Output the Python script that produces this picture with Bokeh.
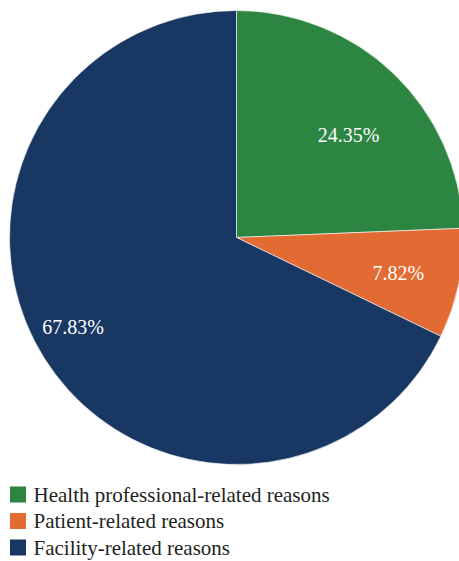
import math
from bokeh.plotting import figure
from bokeh.models import Range1d, ColumnDataSource
from bokeh.core.properties import value
from bokeh.embed import file_html
from bokeh.resources import INLINE

categories = ["Health professional-related reasons", "Patient-related reasons", "Facility-related reasons"]
percents = [24.35, 7.82, 67.83]
labels = ["24.35%", "7.82%", "67.83%"]
colors = ["#2C8642", "#E26A33", "#183763"]

W, H = 459, 561
p = figure(width=W, height=H, output_backend="svg", toolbar_location=None,
           x_range=Range1d(0, W), y_range=Range1d(0, H), min_border=0)
p.axis.visible = False
p.grid.visible = False
p.outline_line_color = None
p.background_fill_color = "white"

FONT = value("Liberation Serif")

# geometry (page pixel coords, y up = 561 - page_y)
cx, cy, r = 236, 561 - 237, 227

starts, ends, lx, ly = [], [], [], []
a = math.pi / 2
label_r = [0.67, 0.73, 0.82]
label_da = [-3.6, -0.5, -3.5]  # degrees offset from slice middle
for i, pc in enumerate(percents):
    sweep = pc / 100 * 2 * math.pi
    end = a
    start = a - sweep
    starts.append(start)
    ends.append(end)
    mid = (start + end) / 2 + math.radians(label_da[i])
    lx.append(cx + label_r[i] * r * math.cos(mid))
    ly.append(cy + label_r[i] * r * math.sin(mid))
    a = start

src = ColumnDataSource(dict(start=starts, end=ends, color=colors, lx=lx, ly=ly, label=labels))
p.wedge(x=cx, y=cy, radius=r, start_angle="start", end_angle="end",
        fill_color="color", line_color="white", line_width=0.6, source=src)
p.text(x="lx", y="ly", text="label", source=src, text_color="white",
       text_font=FONT, text_font_size="20px",
       text_align="center", text_baseline="middle")

# legend
leg_y = [561 - (494 + 26.5 * i) for i in range(len(categories))]
leg = ColumnDataSource(dict(y=leg_y, color=colors, name=categories,
                            sx=[17.5] * len(categories), tx=[33] * len(categories)))
p.scatter(x="sx", y="y", marker="square", size=16, fill_color="color",
          line_color=None, source=leg)
p.text(x="tx", y="y", text="name", source=leg, text_color="#231F20",
       text_font=FONT, text_font_size="21px",
       text_align="left", text_baseline="middle")

open("out.html", "w").write(file_html(p, INLINE))
